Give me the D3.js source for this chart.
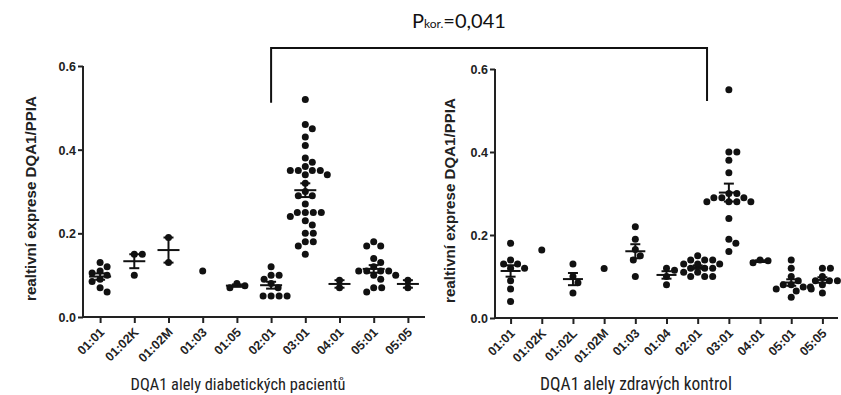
<!DOCTYPE html>
<html><head><meta charset="utf-8">
<script src="https://cdn.jsdelivr.net/npm/d3@7"></script>
<style>body{margin:0;background:#fff}svg{display:block}</style>
</head><body>
<svg id="c" width="841" height="395"></svg>
<script>
// ---- data ----
const yTicks = [0.0, 0.2, 0.4, 0.6];
const catsPatients = ["01:01","01:02K","01:02M","01:03","01:05","02:01","03:01","04:01","05:01","05:05"];
const valsPatients = [
  [0.13,0.12,0.11,0.105,0.10,0.09,0.085,0.07,0.06],
  [0.15,0.15,0.10],
  [0.19,0.13],
  [0.11],
  [0.08,0.075,0.07],
  [0.12,0.10,0.10,0.09,0.08,0.07,0.05,0.05,0.05,0.05],
  [0.52,0.46,0.45,0.43,0.41,0.38,0.37,0.36,0.35,0.35,0.35,0.35,0.34,0.34,0.32,0.30,0.29,0.29,0.27,0.25,0.25,0.25,0.25,0.24,0.23,0.22,0.20,0.20,0.18,0.18,0.17,0.15],
  [0.088,0.07],
  [0.18,0.17,0.17,0.14,0.13,0.12,0.11,0.11,0.11,0.11,0.10,0.10,0.09,0.07,0.07,0.06],
  [0.088,0.07]
];
const catsControls = ["01:01","01:02K","01:02L","01:02M","01:03","01:04","02:01","03:01","04:01","05:01","05:05"];
const valsControls = [
  [0.18,0.14,0.13,0.13,0.12,0.12,0.09,0.07,0.04],
  [0.164],
  [0.13,0.10,0.085,0.06],
  [0.119],
  [0.22,0.19,0.165,0.15,0.14,0.10],
  [0.12,0.115,0.10,0.08],
  [0.15,0.14,0.14,0.14,0.13,0.13,0.13,0.12,0.12,0.12,0.11,0.11,0.10,0.10,0.10],
  [0.55,0.40,0.40,0.38,0.35,0.30,0.30,0.29,0.29,0.29,0.28,0.28,0.28,0.28,0.24,0.19,0.18,0.16],
  [0.133,0.138,0.14],
  [0.14,0.12,0.10,0.09,0.08,0.08,0.075,0.07,0.07,0.065,0.05],
  [0.12,0.12,0.10,0.09,0.09,0.09,0.08,0.075,0.06]
];
const yTitle = "realtivní exprese DQA1/PPIA";
const xTitlePatients = "DQA1 alely diabetických pacientů";
const xTitleControls = "DQA1 alely zdravých kontrol";
const pLabelMain = "P", pLabelSub = "kor.", pLabelRest = "=0,041";

// ---- drawing ----
const svg = d3.select("#c");
const R = 3.5;
const ARIAL = "'Liberation Sans', Arial, sans-serif";
const NARROW = "'Roboto Condensed', 'Liberation Sans', sans-serif";

function fit(sel, target) {
  const w = sel.node().getComputedTextLength();
  const fs = parseFloat(sel.style("font-size"));
  sel.style("font-size", (fs * target / w) + "px");
}

function panel(cats, vals, xTitle, x0, x1, yBottom, yTop, titleX, yTitleX, meanHalf) {
  const x = d3.scalePoint().domain(cats).range([x0, x1]).padding(0.5);
  const y = d3.scaleLinear().domain([0, 0.6]).range([yBottom, yTop]);
  const g = svg.append("g");

  const ya = g.append("g").attr("transform", `translate(${x0},0)`)
    .call(d3.axisLeft(y).tickValues(yTicks).tickFormat(d3.format(".1f")).tickSize(5).tickSizeOuter(0));
  const xa = g.append("g").attr("transform", `translate(0,${yBottom})`)
    .call(d3.axisBottom(x).tickSize(6).tickSizeOuter(0).tickFormat(""));
  [ya, xa].forEach(a => a.selectAll("path,line").attr("stroke", "#222").attr("stroke-width", 2));
  ya.select(".domain").attr("d", `M0,${yBottom}V${yTop}`);
  xa.select(".domain").attr("d", `M${x0 - 1},0H${x1}`);
  ya.selectAll("text").style("font-family", ARIAL).style("font-weight", "bold")
    .style("font-size", "12.5px").attr("fill", "#222").attr("x", -7).attr("dy", "0.36em");

  g.append("g").selectAll("text").data(cats).join("text")
    .attr("transform", d => `translate(${x(d) + 5},${yBottom + 16}) rotate(-45)`)
    .attr("text-anchor", "end")
    .style("font-family", ARIAL).style("font-weight", "bold").style("font-size", "12.5px")
    .attr("fill", "#222").text(d => d);

  const xt = g.append("text").attr("x", titleX).attr("y", 390).attr("text-anchor", "middle")
    .style("font-family", NARROW).style("font-size", "15px").attr("fill", "#222").text(xTitle);
  fit(xt, xTitle === xTitlePatients ? 215 : 192);

  const yt = g.append("text").attr("transform", `translate(${yTitleX},${(yBottom + yTop) / 2 + 7}) rotate(-90)`)
    .attr("text-anchor", "middle")
    .style("font-family", ARIAL).style("font-weight", "bold").style("font-size", "12px")
    .attr("fill", "#222").text(yTitle);
  fit(yt, 205);

  cats.forEach((c, i) => {
    const cx = x(c);
    const sorted = vals[i].slice().sort((a, b) => b - a);
    const placed = [];
    sorted.forEach(v => {
      const py = y(v);
      let k = 0, px = cx;
      while (true) {
        const off = (k === 0) ? 0 : Math.ceil(k / 2) * (k % 2 ? 1 : -1);
        px = cx + off;
        if (placed.every(p => (p[0] - px) ** 2 + (p[1] - py) ** 2 >= (2 * R + 0.4) ** 2)) break;
        k++;
      }
      placed.push([px, py]);
    });
    g.append("g").selectAll("circle").data(placed).join("circle")
      .attr("cx", d => d[0]).attr("cy", d => d[1]).attr("r", R).attr("fill", "#111");

    const n = vals[i].length;
    if (n > 1) {
      const m = d3.mean(vals[i]);
      const sem = d3.deviation(vals[i]) / Math.sqrt(n);
      const lg = g.append("g").attr("stroke", "#111").attr("stroke-width", 2);
      lg.append("line").attr("x1", cx - meanHalf).attr("x2", cx + meanHalf).attr("y1", y(m)).attr("y2", y(m));
      lg.append("line").attr("x1", cx).attr("x2", cx).attr("y1", y(m - sem)).attr("y2", y(m + sem));
      [m - sem, m + sem].forEach(v => lg.append("line").attr("x1", cx - 5).attr("x2", cx + 5).attr("y1", y(v)).attr("y2", y(v)));
    }
  });
  return {x, y};
}

const L = panel(catsPatients, valsPatients, xTitlePatients, 83, 425, 317, 66, 238, 36, 11);
const Rt = panel(catsControls, valsControls, xTitleControls, 495, 838, 318, 69, 636, 455, 10);

const bx1 = L.x("02:01"), bx2 = Rt.x("02:01") + Rt.x.step() * 0.3;
svg.append("path")
  .attr("d", `M${bx1},${L.y(0.512)}V48H${bx2}V${Rt.y(0.523)}`)
  .attr("fill", "none").attr("stroke", "#111").attr("stroke-width", 2);

const t = svg.append("text").attr("x", 412).attr("y", 28)
  .style("font-family", "Lato, 'Open Sans', sans-serif").style("font-size", "20px").attr("fill", "#111");
t.append("tspan").text(pLabelMain);
t.append("tspan").style("font-size", "12px").text(pLabelSub);
t.append("tspan").style("font-size", "20px").text(pLabelRest);
</script>
</body></html>
